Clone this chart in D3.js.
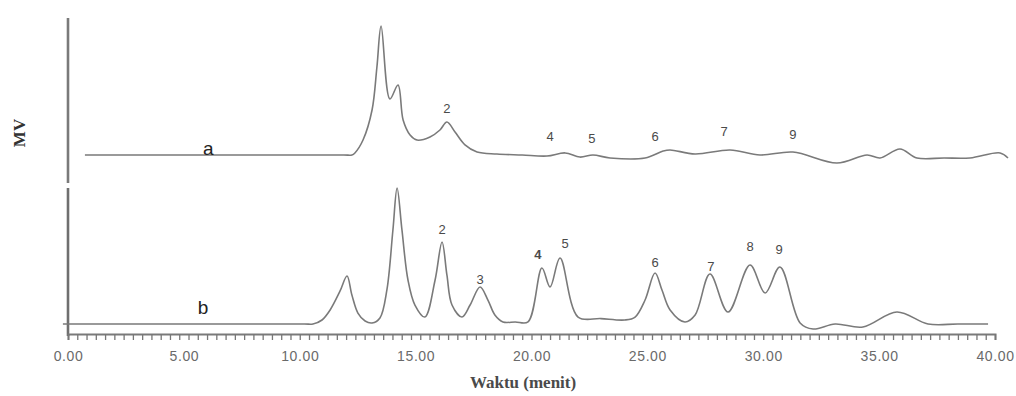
<!DOCTYPE html>
<html>
<head>
<meta charset="utf-8">
<script src="https://cdn.jsdelivr.net/npm/d3@7"></script>
<style>
  html, body { margin: 0; padding: 0; background: #fff; }
  svg { display: block; }
  .trace { fill: none; stroke: #7a7a7a; stroke-width: 1.6; stroke-linejoin: round; }
  .peak { font-family: "Liberation Sans", Arial, sans-serif; font-size: 13px; fill: #4a4a4a; text-anchor: middle; }
  .xaxis text { font-family: "Liberation Sans", Arial, sans-serif; font-size: 14px; fill: #6a6a6a; letter-spacing: 0.6px; }
</style>
</head>
<body>
<div id="chart"></div>
<script>
// Kromatogram a (atas): waktu (menit) dan respon (MV, satuan relatif)
const timeA = [0.73, 6.0, 11.9, 12.25, 12.38, 12.73, 13.12, 13.33, 13.51, 13.89, 14.24, 14.46, 14.76, 15.06,
  15.62, 16.05, 16.35, 16.70, 17.13, 17.65, 18.51, 19.6, 20.67, 21.45, 22.09, 22.65, 23.39, 24.90,
  25.68, 25.98, 27.06, 28.57, 29.86, 31.28, 33.18, 34.48, 35.04, 35.90, 36.63, 37.8, 38.92, 40.22, 40.56];
const signalA = [0, 0, 0, 0, 1.6, 11.6, 34.9, 68.2, 100, 43.4, 54.3, 27.1, 15.5, 11.6,
  14.0, 19.4, 25.6, 17.8, 7.8, 2.3, 0.8, 0, -0.8, 1.6, -1.6, 0, -2.3, -2.3,
  3.1, 3.9, 0.8, 3.9, 0, 2.3, -6.2, 0, -2.3, 4.7, -2.3, -2.3, -2.3, 1.6, -2.3];

// Kromatogram b (bawah)
const timeB = [-0.22, 5.0, 10.2, 10.57, 10.96, 11.31, 11.74, 12.04, 12.25, 12.51, 12.82, 13.12, 13.46, 13.76,
  14.02, 14.20, 14.41, 14.67, 14.97, 15.40, 15.84, 16.14, 16.35, 16.57, 17.00, 17.35, 17.78,
  18.12, 18.42, 18.77, 19.3, 19.85, 20.45, 20.80, 21.23, 22.01, 23.0, 24.03, 24.47, 24.90, 25.33, 25.63,
  25.98, 26.62, 27.06, 27.70, 28.48, 29.43, 30.08, 30.72, 31.59, 32.15, 33.10, 34.30, 35.77,
  37.11, 38.4, 39.70];
const signalB = [0, 0, 0, 0, 3.1, 10.9, 25.6, 37.2, 22.5, 8.5, 2.3, 0.8, 4.7, 26.4,
  72.9, 105.4, 72.9, 34.1, 14.7, 5.4, 34.1, 63.6, 38.0, 14.7, 5.4, 14.7, 28.7,
  18.6, 7.0, 1.6, 1.6, 1.6, 43.4, 28.7, 51.2, 5.4, 4.2, 3.1, 5.4, 18.6, 39.5, 26.4,
  10.9, 1.6, 7.0, 38.8, 9.3, 45.7, 24.0, 44.2, 0.8, -3.9, 0, -2.3, 9.3,
  0, 0, 0];

// Nomor puncak
const peakLabelsA = ["2", "4", "5", "6", "7", "9"];
const peakTimeA = [16.35, 20.80, 22.61, 25.33, 28.31, 31.28];
const peakValA = [36.4, 14.7, 13.2, 14.7, 18.6, 16.3];

const peakLabelsB = ["2", "3", "4", "5", "6", "7", "8", "9"];
const peakTimeB = [16.14, 17.78, 20.28, 21.45, 25.33, 27.74, 29.43, 30.68];
const peakValB = [73.6, 34.9, 54.3, 62.8, 48.1, 45.0, 60.5, 58.1];

const traceLabels = ["a", "b"];
const xTicks = [0, 5, 10, 15, 20, 25, 30, 35, 40];

const width = 1016, height = 396;

const svg = d3.select("#chart").append("svg")
  .attr("width", width)
  .attr("height", height);

const x = d3.scaleLinear().domain([0, 40]).range([68, 995]);
const yA = d3.scaleLinear().domain([0, 100]).range([155, 26]);
const yB = d3.scaleLinear().domain([0, 100]).range([324, 195]);

// sumbu vertikal (dua potong)
svg.append("line")
  .attr("x1", 68).attr("x2", 68).attr("y1", 18).attr("y2", 183)
  .attr("stroke", "#7a7a7a").attr("stroke-width", 2.6);
svg.append("line")
  .attr("x1", 68).attr("x2", 68).attr("y1", 188).attr("y2", 336)
  .attr("stroke", "#6f6f6f").attr("stroke-width", 2.6);

// sumbu waktu: tick kecil
const minor = svg.append("g")
  .attr("transform", "translate(0,334)")
  .call(d3.axisBottom(x).tickValues(d3.range(0, 40.001, 0.4)).tickSize(6).tickFormat(""));
minor.select(".domain").attr("stroke", "#7a7a7a").attr("stroke-width", 2);
minor.selectAll(".tick line").attr("stroke", "#777").attr("stroke-width", 1.3);

// label tick
const major = svg.append("g")
  .attr("class", "xaxis")
  .attr("transform", "translate(0,334)")
  .call(d3.axisBottom(x).tickValues(xTicks).tickSize(0).tickPadding(17).tickFormat(d3.format(".2f")));
major.select(".domain").remove();

// kromatogram
const lineA = d3.line().x((d, i) => x(timeA[i])).y(d => yA(d)).curve(d3.curveCatmullRom.alpha(0.5));
const lineB = d3.line().x((d, i) => x(timeB[i])).y(d => yB(d)).curve(d3.curveCatmullRom.alpha(0.5));

svg.append("path").attr("class", "trace").attr("d", lineA(signalA));
svg.append("path").attr("class", "trace").attr("d", lineB(signalB));

// nomor puncak
svg.append("g").selectAll("text")
  .data(peakLabelsA)
  .join("text")
  .attr("class", "peak")
  .attr("x", (d, i) => x(peakTimeA[i]))
  .attr("y", (d, i) => yA(peakValA[i]))
  .attr("dy", "0.35em")
  .text(d => d);

svg.append("g").selectAll("text")
  .data(peakLabelsB)
  .join("text")
  .attr("class", "peak")
  .attr("x", (d, i) => x(peakTimeB[i]))
  .attr("y", (d, i) => yB(peakValB[i]))
  .attr("dy", "0.35em")
  .style("font-weight", (d, i) => i === 2 ? "bold" : null)
  .text(d => d);

// label kromatogram a / b
svg.append("text")
  .attr("x", x(6.05)).attr("y", yA(5.4)).attr("dy", "0.35em")
  .attr("text-anchor", "middle")
  .style("font-family", "'Liberation Sans', Arial, sans-serif")
  .style("font-size", "19px").style("fill", "#222")
  .text(traceLabels[0]);
svg.append("text")
  .attr("x", x(5.83)).attr("y", yB(13.2)).attr("dy", "0.35em")
  .attr("text-anchor", "middle")
  .style("font-family", "'Liberation Sans', Arial, sans-serif")
  .style("font-size", "19px").style("fill", "#222")
  .text(traceLabels[1]);

// judul sumbu
svg.append("text")
  .attr("x", 523).attr("y", 388)
  .attr("text-anchor", "middle")
  .style("font-family", "'Liberation Serif', 'DejaVu Serif', serif")
  .style("font-size", "17px").style("font-weight", "bold").style("fill", "#4a4a4a")
  .text("Waktu (menit)");

svg.append("text")
  .attr("transform", "translate(25,133) rotate(-90)")
  .attr("text-anchor", "middle")
  .style("font-family", "'Liberation Serif', 'DejaVu Serif', serif")
  .style("font-size", "17px").style("font-weight", "bold").style("fill", "#333")
  .text("MV");
</script>
</body>
</html>
